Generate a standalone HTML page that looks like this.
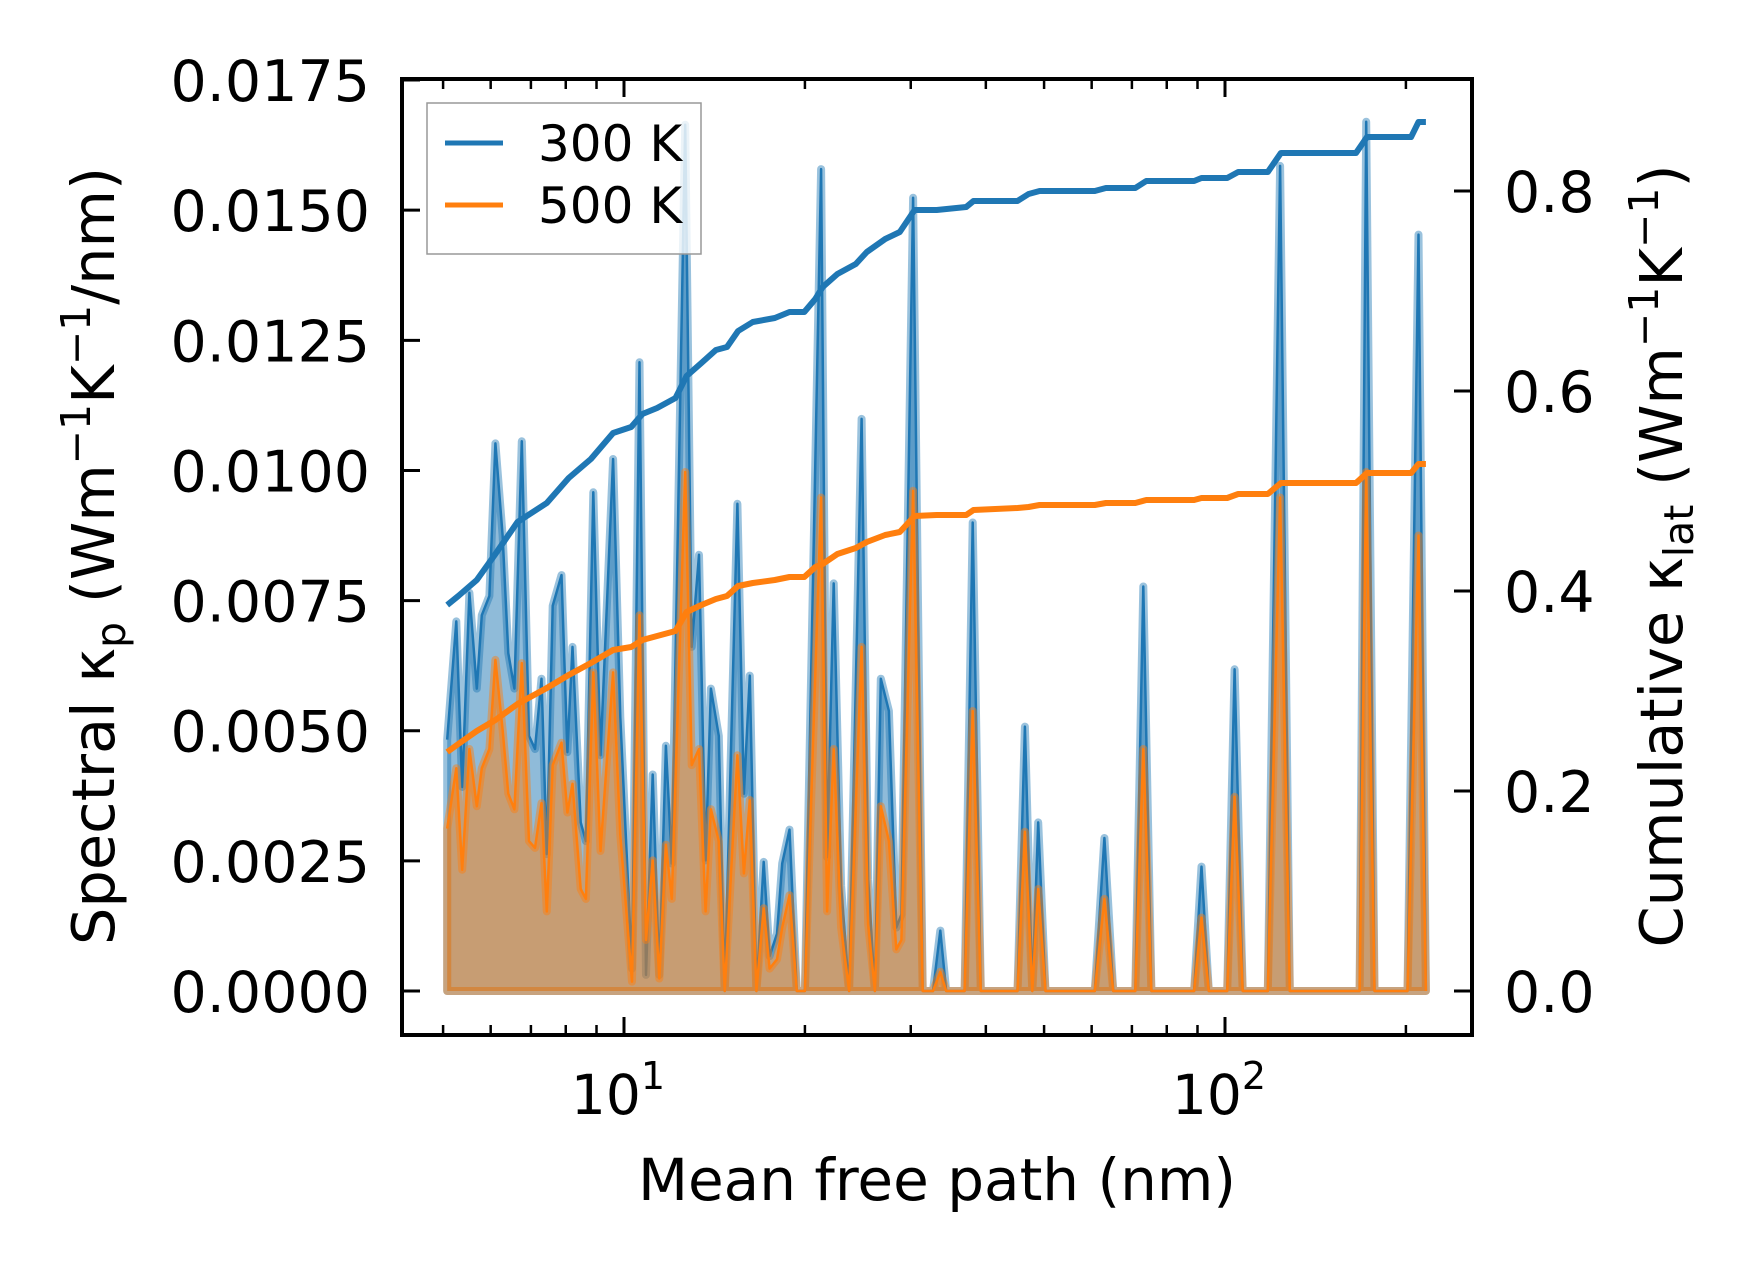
<!DOCTYPE html>
<html><head><meta charset="utf-8"><style>
html,body{margin:0;padding:0;background:#fff}
svg{display:block}
text{font-family:"DejaVu Sans","Liberation Sans",sans-serif;fill:#000}
</style></head><body>
<svg id="chart" width="1753" height="1272" viewBox="0 0 1753 1272" xmlns="http://www.w3.org/2000/svg">
<rect x="0" y="0" width="1753" height="1272" fill="#fff"/>
<g id="plot"></g>
<g id="axes"></g>
</svg>
<script>
// ---- data ----
const mfp = [5.08,5.26,5.38,5.53,5.69,5.80,5.97,6.11,6.28,6.42,6.57,6.76,6.95,7.11,7.29,7.44,7.61,7.87,8.05,8.21,8.47,8.64,8.89,9.14,9.59,9.86,10.31,10.61,10.88,11.16,11.45,11.74,12.01,12.64,12.96,13.33,13.67,13.95,14.38,14.71,15.44,15.83,16.19,16.61,17.08,17.47,17.97,18.33,18.85,19.39,20.00,21.28,21.77,22.33,22.97,23.69,24.85,25.49,26.15,26.75,27.59,28.38,28.94,30.27,31.40,32.67,33.60,34.37,36.87,38.04,39.23,45.16,46.46,47.79,48.88,50.27,60.72,62.99,65.16,70.91,73.13,75.44,88.83,91.38,93.99,100.85,103.73,107.0,117.8,123.5,128.2,167.5,171.8,177.3,201.2,209.9,215.9];
const spectral300 = [4.83,7.10,3.92,7.65,5.81,7.22,7.59,10.52,8.75,6.49,5.81,10.56,4.90,4.65,6.00,2.63,7.40,7.99,4.59,6.61,3.24,2.88,9.58,4.53,10.22,5.26,0.43,12.08,0.31,4.16,0.31,4.71,2.45,16.64,6.61,8.38,2.51,5.81,4.90,0,9.36,3.79,6.06,0,2.48,0.67,1.10,2.45,3.10,0,0,15.79,2.57,7.83,2.02,0,10.99,2.14,0,6.00,5.38,1.22,1.47,15.24,0,0,1.16,0,0,9.00,0,0,5.08,0,3.24,0,0,2.94,0,0,7.77,0,0,2.39,0,0,6.18,0,0,15.85,0,0,16.70,0,0,14.53,0].map(v=>v*1e-3);
const spectral500 = [3.12,4.28,2.33,4.65,3.55,4.28,4.65,6.36,5.02,3.79,3.49,6.30,2.88,2.75,3.61,1.53,4.34,4.77,3.43,3.98,1.96,1.77,6.12,2.69,6.12,3.00,0.18,7.22,0.98,2.51,0.24,2.81,1.77,9.97,4.34,4.65,1.53,3.49,2.88,0,4.53,2.26,3.67,0,1.59,0.43,0.61,1.22,1.84,0,0,9.48,1.53,4.65,1.22,0,6.61,1.28,0,3.55,2.88,0.80,0.98,9.61,0,0,0.37,0,0,5.38,0,0,3.06,0,1.96,0,0,1.77,0,0,4.65,0,0,1.41,0,0,3.73,0,0,9.48,0,0,9.97,0,0,8.75,0].map(v=>v*1e-3);
const cumMfp = [5.08,5.30,5.69,6.11,6.65,7.44,8.09,8.81,9.59,10.28,10.73,11.35,12.18,12.71,13.45,14.22,14.84,15.48,16.38,17.82,18.85,19.95,20.81,21.41,22.65,24.30,25.35,27.20,28.77,30.45,33.13,37.10,38.15,45.16,47.12,49.15,60.72,63.37,70.91,73.96,88.83,91.38,100.85,105.2,117.8,123.9,165.2,172.3,204.0,209.9,215.9];
const cum300 = [0.386,0.395,0.411,0.437,0.469,0.488,0.513,0.532,0.558,0.564,0.577,0.583,0.593,0.615,0.628,0.641,0.644,0.660,0.669,0.673,0.679,0.679,0.692,0.704,0.717,0.727,0.739,0.752,0.759,0.781,0.781,0.784,0.790,0.790,0.797,0.800,0.800,0.803,0.803,0.810,0.810,0.813,0.813,0.819,0.819,0.838,0.838,0.854,0.854,0.869,0.869];
const cum500 = [0.239,0.247,0.260,0.271,0.287,0.303,0.316,0.328,0.341,0.344,0.351,0.355,0.360,0.379,0.386,0.392,0.395,0.405,0.408,0.411,0.414,0.414,0.424,0.427,0.437,0.443,0.449,0.456,0.459,0.475,0.476,0.476,0.481,0.483,0.484,0.486,0.486,0.488,0.488,0.491,0.491,0.493,0.493,0.497,0.497,0.508,0.508,0.518,0.518,0.527,0.527];
const leftTicks = [0,0.0025,0.005,0.0075,0.01,0.0125,0.015,0.0175];
const leftTickLabels = ["0.0000","0.0025","0.0050","0.0075","0.0100","0.0125","0.0150","0.0175"];
const rightTicks = [0,0.2,0.4,0.6,0.8];
const rightTickLabels = ["0.0","0.2","0.4","0.6","0.8"];
const xMajor = [10,100];
const xMinor = [5,6,7,8,9,20,30,40,50,60,70,80,90,200];

// ---- geometry ----
const L=402,R=1472,T=79,B=1035;
const xLogMin=0.6306,xLogMax=2.411;
const yLmin=-0.000845,yLmax=0.01752;
const yRmin=-0.044,yRmax=0.912;
const sx=v=>L+(Math.log10(v)-xLogMin)/(xLogMax-xLogMin)*(R-L);
const syL=v=>B-(v-yLmin)/(yLmax-yLmin)*(B-T);
const syR=v=>B-(v-yRmin)/(yRmax-yRmin)*(B-T);
const NS="http://www.w3.org/2000/svg";
const plot=document.getElementById('plot'), axes=document.getElementById('axes');
function mk(tag,attrs,parent){const e=document.createElementNS(NS,tag);for(const k in attrs)e.setAttribute(k,attrs[k]);parent.appendChild(e);return e;}

const defs=mk('defs',{},plot);
const cp=mk('clipPath',{id:'clip'},defs);
mk('rect',{x:L,y:T,width:R-L,height:B-T},cp);
const g=mk('g',{'clip-path':'url(#clip)'},plot);

function spectral(vals,color,name){
  let pts=vals.map((v,i)=>sx(mfp[i]).toFixed(1)+','+syL(v).toFixed(1));
  const x0=sx(mfp[0]).toFixed(1), x1=sx(mfp[mfp.length-1]).toFixed(1), y0=syL(0).toFixed(1);
  const poly=x0+','+y0+' '+pts.join(' ')+' '+x1+','+y0;
  const f=mk('polygon',{points:poly,fill:color,'fill-opacity':0.5,stroke:color,'stroke-opacity':0.45,'stroke-width':8,'stroke-linejoin':'round'},g);
  
  
  const l=mk('polyline',{points:pts.join(' '),fill:'none',stroke:color,'stroke-width':2.5,'stroke-linejoin':'round'},g);
  
  
}
spectral(spectral300,'#1f77b4','spectral-300k');
spectral(spectral500,'#ff7f0e','spectral-500k');
function cum(vals,color,name){
  const pts=vals.map((v,i)=>sx(cumMfp[i]).toFixed(1)+','+syR(v).toFixed(1)).join(' ');
  const l=mk('polyline',{points:pts,fill:'none',stroke:color,'stroke-width':6,'stroke-linejoin':'round'},g);
  
  
}
cum(cum300,'#1f77b4','cumulative-300k');
cum(cum500,'#ff7f0e','cumulative-500k');

const fr=mk('rect',{x:L,y:T,width:R-L,height:B-T,fill:'none',stroke:'#000','stroke-width':4},axes);



xMajor.forEach((v,i)=>{
  const x=sx(v);
  mk('line',{x1:x,y1:B,x2:x,y2:B-18,stroke:'#000','stroke-width':3},axes);
  mk('line',{x1:x,y1:T,x2:x,y2:T+18,stroke:'#000','stroke-width':3},axes);
  const t=mk('text',{x:x-6,y:1114,'font-size':55,'text-anchor':'middle'},axes);
  
  
  t.textContent='10';
  const s=mk('tspan',{'font-size':38,dy:-25},t); s.textContent=String(i+1);
});
xMinor.forEach(v=>{
  const x=sx(v);
  mk('line',{x1:x,y1:B,x2:x,y2:B-10,stroke:'#000','stroke-width':2.5},axes);
  mk('line',{x1:x,y1:T,x2:x,y2:T+10,stroke:'#000','stroke-width':2.5},axes);
});
leftTicks.forEach((v,i)=>{
  const y=syL(v);
  mk('line',{x1:L,y1:y,x2:L+18,y2:y,stroke:'#000','stroke-width':3},axes);
  const t=mk('text',{x:370,y:y+21,'font-size':57,'text-anchor':'end'},axes);
  
  
  t.textContent=leftTickLabels[i];
});
rightTicks.forEach((v,i)=>{
  const y=syR(v);
  mk('line',{x1:R,y1:y,x2:R-18,y2:y,stroke:'#000','stroke-width':3},axes);
  const t=mk('text',{x:1504,y:y+21,'font-size':57,'text-anchor':'start'},axes);
  
  
  t.textContent=rightTickLabels[i];
});
</script>
<script>
(function(){
const NS="http://www.w3.org/2000/svg";
const svg=document.getElementById('chart');
function add(html){const g=document.createElementNS(NS,'g');g.innerHTML=html;svg.appendChild(g);}
add(`
<text x="937" y="1200" font-size="58" text-anchor="middle">Mean free path (nm)</text>
<text transform="translate(114,556) rotate(-90)" font-size="59" text-anchor="middle">Spectral κ<tspan font-size="41" dy="11">p</tspan><tspan dy="-11"> (Wm</tspan><tspan font-size="41" dy="-24">−1</tspan><tspan dy="24">K</tspan><tspan font-size="41" dy="-24">−1</tspan><tspan dy="24">/nm)</tspan></text>
<text transform="translate(1682,556) rotate(-90)" font-size="59" text-anchor="middle">Cumulative κ<tspan font-size="41" dy="11">lat</tspan><tspan dy="-11"> (Wm</tspan><tspan font-size="41" dy="-24">−1</tspan><tspan dy="24">K</tspan><tspan font-size="41" dy="-24">−1</tspan><tspan dy="24">)</tspan></text>
<g>
<rect x="427" y="103" width="274" height="151" fill="#fff" fill-opacity="0.8" stroke="#999" stroke-width="1.5"/>
<line x1="445" y1="143" x2="503" y2="143" stroke="#1f77b4" stroke-width="5"/>
<text x="538" y="161" font-size="50">300 K</text>
<line x1="445" y1="205" x2="503" y2="205" stroke="#ff7f0e" stroke-width="5"/>
<text x="538" y="223" font-size="50">500 K</text>
</g>`);
})();
</script>
</body></html>
